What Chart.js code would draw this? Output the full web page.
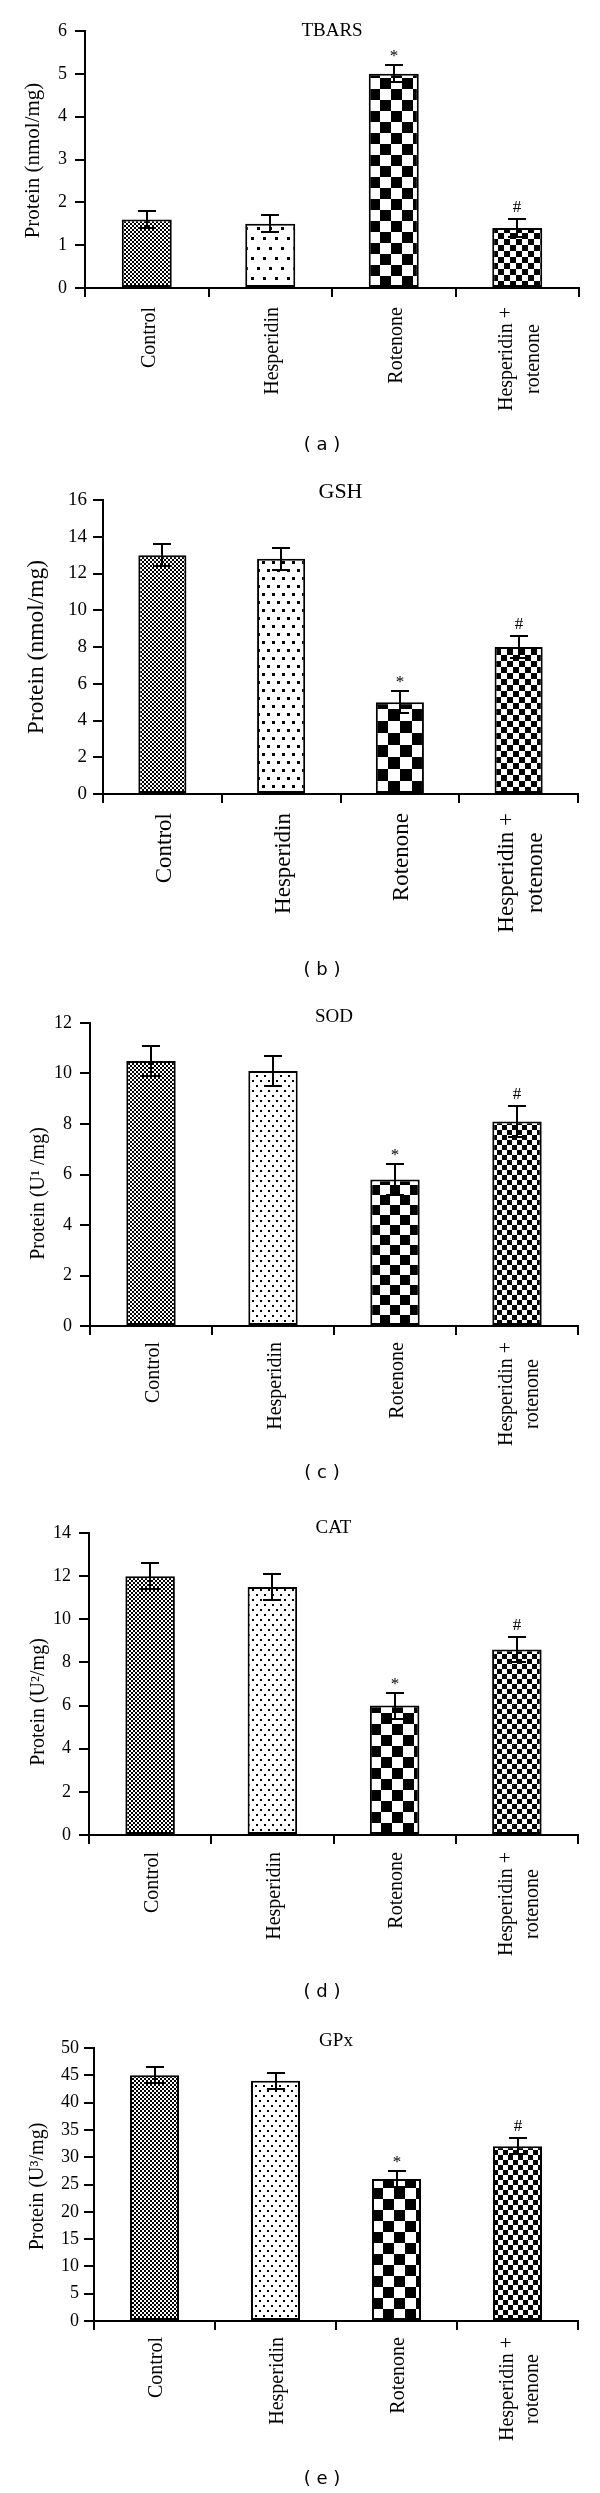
<!DOCTYPE html>
<html>
<head>
<meta charset="utf-8">
<script src="https://cdn.jsdelivr.net/npm/chart.js@4.4.0/dist/chart.umd.min.js"></script>
<style>
html,body{margin:0;padding:0;background:#fff;}
body{width:600px;height:2493px;position:relative;overflow:hidden;}
canvas{position:absolute;left:0;}
.cap{position:absolute;left:222px;width:200px;text-align:center;font-family:"DejaVu Sans",sans-serif;font-size:18px;line-height:20px;color:#000;white-space:pre;}
</style>
</head>
<body>
<script>
// ---------- data ----------
const categories = [["Control"], ["Hesperidin"], ["Rotenone"], ["Hesperidin +", "rotenone"]];
const panelTitles = ["TBARS", "GSH", "SOD", "CAT", "GPx"];
const panelCaptions = ["( a )", "( b )", "( c )", "( d )", "( e )"];
const yAxisTitles = ["Protein (nmol/mg)", "Protein (nmol/mg)", "Protein (U\u00b9 /mg)", "Protein (U\u00b2/mg)", "Protein (U\u00b3/mg)"];

const tbarsMeans = [1.6, 1.5, 5.0, 1.4];
const tbarsErrors = [0.2, 0.2, 0.2, 0.2];
const gshMeans = [13.0, 12.8, 5.0, 8.0];
const gshErrors = [0.6, 0.6, 0.6, 0.6];
const sodMeans = [10.5, 10.1, 5.8, 8.1];
const sodErrors = [0.6, 0.6, 0.6, 0.6];
const catMeans = [12.0, 11.5, 6.0, 8.6];
const catErrors = [0.6, 0.6, 0.6, 0.6];
const gpxMeans = [45, 44, 26, 32];
const gpxErrors = [1.5, 1.5, 1.5, 1.5];

const significanceMarks = ["", "", "*", "#"];
const yMaxima = [6, 16, 12, 14, 50];
const yStepSizes = [1, 2, 2, 2, 5];

const allMeans = [tbarsMeans, gshMeans, sodMeans, catMeans, gpxMeans];
const allErrors = [tbarsErrors, gshErrors, sodErrors, catErrors, gpxErrors];

// ---------- layout (page pixels) ----------
const layouts = [
  {top:31, bottom:288, left:85, right:579, titleY:31, titleSize:19, tickSize:18, tickPad:8, labelGap:19, labelSize:20, labelLH:27, yTitleX:33, yTitleSize:21, yTitleShift:1, captionY:445, dot:[12,10,3], bigCell:11, smallCell:6},
  {top:500, bottom:794, left:103, right:578, titleY:492, titleSize:22, tickSize:19, tickPad:6, labelGap:19, labelSize:23, labelLH:29, yTitleX:37, yTitleSize:23.5, yTitleShift:0, captionY:970, dot:[10,8,3], bigCell:12, smallCell:6},
  {top:1023, bottom:1326, left:90, right:578, titleY:1017, titleSize:19, tickSize:18, tickPad:8, labelGap:16, labelSize:20, labelLH:26, yTitleX:39, yTitleSize:20, yTitleShift:19, captionY:1473, dot:[8,5,2], bigCell:10, smallCell:5},
  {top:1533, bottom:1835, left:89, right:578, titleY:1528, titleSize:19, tickSize:18, tickPad:8, labelGap:17, labelSize:20, labelLH:26, yTitleX:39, yTitleSize:20, yTitleShift:18, captionY:1992, dot:[8,5,2], bigCell:11, smallCell:5},
  {top:2048, bottom:2321, left:94, right:578, titleY:2041, titleSize:19, tickSize:18, tickPad:5, labelGap:16, labelSize:20, labelLH:25, yTitleX:38, yTitleSize:20, yTitleShift:2, captionY:2479, dot:[8,5,2], bigCell:11, smallCell:5}
];
const labelShiftX = 2.5;

const SERIF = '"Liberation Serif", "Times New Roman", serif';

// ---------- patterns ----------
function makeTile(w, h, draw) {
  const c = document.createElement('canvas');
  c.width = w; c.height = h;
  const x = c.getContext('2d');
  x.fillStyle = '#fff'; x.fillRect(0, 0, w, h);
  x.fillStyle = '#000';
  draw(x, w, h);
  return c;
}
function checkerTile(cell) {
  return makeTile(cell * 2, cell * 2, x => { x.fillRect(0, 0, cell, cell); x.fillRect(cell, cell, cell, cell); });
}
function dotTile(dx, dy, s) {
  return makeTile(dx, dy * 2, x => { x.fillRect(0, 0, s, s); x.fillRect(dx / 2, dy, s, s); });
}

layouts.forEach((L, idx) => {
  const canvasTop = Math.max(0, L.top - 45);
  const canvasH = L.captionY + 25 - canvasTop;
  const cv = document.createElement('canvas');
  cv.width = 600; cv.height = canvasH;
  cv.style.top = canvasTop + 'px';
  cv.style.width = '600px'; cv.style.height = canvasH + 'px';
  document.body.appendChild(cv);

  const cap = document.createElement('div');
  cap.className = 'cap';
  cap.textContent = panelCaptions[idx];
  cap.style.top = (L.captionY - 11) + 'px';
  document.body.appendChild(cap);

  const ctx0 = cv.getContext('2d');
  const patterns = [
    ctx0.createPattern(checkerTile(2), 'repeat'),
    ctx0.createPattern(dotTile(L.dot[0], L.dot[1], L.dot[2]), 'repeat'),
    ctx0.createPattern(checkerTile(L.bigCell), 'repeat'),
    ctx0.createPattern(checkerTile(L.smallCell), 'repeat')
  ];
  const means = allMeans[idx];
  const errs = allErrors[idx];

  const decor = {
    id: 'decor' + idx,
    beforeDatasetsDraw(chart) {
      const meta = chart.getDatasetMeta(0);
      meta.data.forEach((bar, i) => {
        const p = patterns[i];
        if (p && p.setTransform) p.setTransform(new DOMMatrix().translate(Math.round(bar.x - bar.width / 2), Math.round(bar.base)));
      });
    },
    afterDatasetsDraw(chart) {
      const ctx = chart.ctx;
      const meta = chart.getDatasetMeta(0);
      const ys = chart.scales.y;
      ctx.save();
      ctx.strokeStyle = '#000';
      ctx.lineWidth = 2;
      meta.data.forEach((bar, i) => {
        const x = Math.round(bar.x);
        const yT = Math.round(ys.getPixelForValue(means[i] + errs[i]));
        const yB = Math.round(ys.getPixelForValue(means[i] - errs[i]));
        ctx.beginPath();
        ctx.moveTo(x, yT); ctx.lineTo(x, yB);
        ctx.moveTo(x - 9, yT); ctx.lineTo(x + 9, yT);
        ctx.moveTo(x - 9, yB); ctx.lineTo(x + 9, yB);
        ctx.stroke();
        const m = significanceMarks[i];
        if (m) {
          ctx.fillStyle = '#000';
          ctx.font = '17px ' + SERIF;
          ctx.textAlign = 'center';
          ctx.textBaseline = 'alphabetic';
          ctx.fillText(m, x, yT - (m === '*' ? 4 : 7));
        }
      });
      ctx.restore();
    },
    afterDraw(chart) {
      const ctx = chart.ctx;
      const ca = chart.chartArea;
      ctx.save();
      ctx.fillStyle = '#000';
      // title
      ctx.font = L.titleSize + 'px ' + SERIF;
      ctx.textAlign = 'center';
      ctx.textBaseline = 'middle';
      ctx.fillText(panelTitles[idx], (ca.left + ca.right) / 2, L.titleY - canvasTop);
      // y-axis title
      ctx.save();
      ctx.font = L.yTitleSize + 'px ' + SERIF;
      ctx.translate(L.yTitleX, (ca.top + ca.bottom) / 2 + L.yTitleShift);
      ctx.rotate(-Math.PI / 2);
      ctx.fillText(yAxisTitles[idx], 0, 0);
      ctx.restore();
      // category labels (rotated, lines centred on each other)
      const xs = chart.scales.x;
      ctx.font = L.labelSize + 'px ' + SERIF;
      categories.forEach((lines, i) => {
        const cx = xs.getPixelForValue(i) + labelShiftX;
        const maxW = Math.max(...lines.map(t => ctx.measureText(t).width));
        const cy = ca.bottom + L.labelGap + maxW / 2;
        ctx.save();
        ctx.translate(cx, cy);
        ctx.rotate(-Math.PI / 2);
        ctx.textAlign = 'center';
        ctx.textBaseline = 'middle';
        lines.forEach((t, j) => ctx.fillText(t, 0, (j - (lines.length - 1) / 2) * L.labelLH));
        ctx.restore();
      });
      ctx.restore();
    }
  };

  new Chart(cv, {
    type: 'bar',
    data: {
      labels: categories.map(l => l.join(' ')),
      datasets: [{
        data: means,
        backgroundColor: patterns,
        borderColor: '#000',
        borderWidth: 2,
        borderSkipped: false,
        barPercentage: 0.405,
        categoryPercentage: 1
      }]
    },
    options: {
      responsive: false,
      animation: false,
      devicePixelRatio: 1,
      events: [],
      layout: {padding: {left: 0, right: 600 - L.right, top: L.top - canvasTop, bottom: canvasH - (L.bottom - canvasTop) - 10}},
      plugins: {legend: {display: false}, tooltip: {enabled: false}, title: {display: false}},
      scales: {
        x: {
          offset: true,
          grid: {offset: true, drawOnChartArea: false, drawTicks: true, tickLength: 9, color: '#000', lineWidth: 2},
          border: {display: true, color: '#000', width: 2},
          ticks: {display: false},
          afterFit: s => { s.height = 10; }
        },
        y: {
          min: 0,
          max: yMaxima[idx],
          ticks: {stepSize: yStepSizes[idx], color: '#000', font: {family: SERIF, size: L.tickSize}, padding: L.tickPad},
          grid: {drawOnChartArea: false, drawTicks: true, tickLength: 10, color: '#000', lineWidth: 2},
          border: {display: true, color: '#000', width: 2},
          afterFit: s => { s.width = L.left; }
        }
      }
    },
    plugins: [decor]
  });
});
</script>
</body>
</html>
